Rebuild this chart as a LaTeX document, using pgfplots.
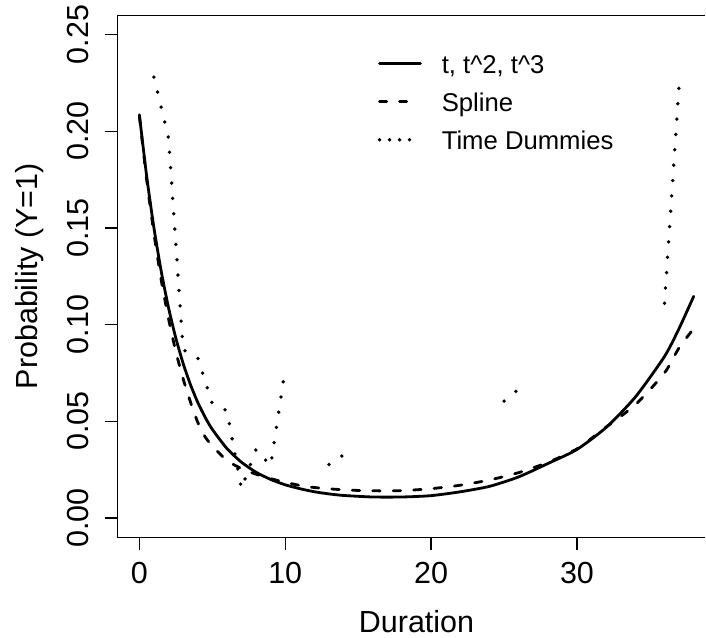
\documentclass[border=0pt]{standalone}
\usepackage{fontspec}
\setmainfont{Liberation Sans}
\usepackage{pgfplots}
\pgfplotsset{compat=1.18}
\newcommand\bigf{\fontsize{30.5bp}{36bp}\selectfont}
\newcommand\legf{\fontsize{25.7bp}{30bp}\selectfont}
\begin{document}
\begin{tikzpicture}
\begin{axis}[
  at={(0,0)}, anchor=south west,
  scale only axis, width=588.7bp, height=522.4bp,
  xmin=-1.52, xmax=38.80, ymin=-0.01, ymax=0.26,
  axis x line*=bottom, axis y line*=left,
  axis line style={line width=1.3bp, -},
  tick style={line width=1.3bp, black},
  tick align=outside, major tick length=12.5bp,
  xtick={0,10,20,30}, xticklabels={0,10,20,30},
  ytick={0,0.05,0.1,0.15,0.2,0.25},
  yticklabels={0.00,0.05,0.10,0.15,0.20,0.25},
  ticklabel style={font=\bigf},
  xticklabel style={anchor=base, yshift=-34.1bp},
  yticklabel style={xshift=-15.8bp, rotate=90, anchor=base},
  xlabel={Duration}, ylabel={Probability (Y=1)},
  label style={font=\bigf},
  xlabel style={at={([xshift=5.25bp, yshift=-95.6bp]axis description cs:0.5,0)}, anchor=base},
  ylabel style={at={([xshift=-79.3bp]axis description cs:0,0.5)}, anchor=base},
  legend style={draw=none, fill=none, at={([xshift=260.7bp, yshift=-38.7bp]axis description cs:0,1)},
    anchor=north west, font=\legf, inner sep=0pt, outer sep=0pt, row sep=12.6bp,
    nodes={inner sep=0pt, text height=19.3bp, text depth=6.4bp}},
  legend cell align=left,
  legend image code/.code={\draw[#1] (1.4bp,3.5bp) -- (42.3bp,3.5bp); \path[draw=none] (0bp,0bp) -- (63.7bp,0bp);},
]
\addlegendimage{line width=2.8bp, line cap=round}
\addlegendentry{t, t\textasciicircum 2, t\textasciicircum 3}
\addlegendimage{line width=2.8bp, line cap=round, dash pattern=on 7.2bp off 12.8bp on 7.2bp off 40bp}
\addlegendentry{Spline}
\addlegendimage{line width=3.8bp, line cap=round, dash pattern=on 0bp off 10bp on 0bp off 10bp on 0bp off 10bp on 0bp off 40bp}
\addlegendentry{Time Dummies}

% t, t^2, t^3
\addplot[forget plot, line width=2.8bp, line cap=round, line join=round, smooth, tension=0.4] coordinates {
(0,0.2085) (0.5,0.1768) (1,0.1500) (1.5,0.1275) (2,0.1087) (2.5,0.0930) (3,0.0799)
(3.5,0.0690) (4,0.0598) (4.5,0.0522) (5,0.0458) (6,0.0359) (7,0.0288) (8,0.0236)
(9,0.0199) (10,0.0171) (11,0.0151) (12,0.0135) (13,0.0124) (14,0.0116) (16,0.0108)
(18,0.0108) (20,0.0115) (22,0.0135) (24,0.0163) (26,0.0212) (28,0.0281) (30,0.0354)
(32,0.0468) (34,0.0625) (36,0.0835) (37,0.0980) (38,0.1146)
};
% Spline
\addplot[forget plot, line width=2.8bp, line cap=round, line join=round, dash pattern=on 7.5bp off 13bp, smooth, tension=0.4] coordinates {
(0,0.2080) (0.5,0.1750) (1,0.1470) (1.5,0.1230) (2,0.1030) (2.5,0.0860) (3,0.0720)
(3.5,0.0600) (4,0.0495) (4.5,0.0420) (5,0.0372) (6,0.0297) (7,0.0255) (8,0.0226)
(9,0.0203) (10,0.0184) (11,0.0168) (12,0.0157) (14,0.0145) (16,0.0140) (18,0.0141)
(20,0.0151) (22,0.0169) (24,0.0196) (26,0.0234) (28,0.0287) (30,0.0357) (32,0.0470)
(34,0.0585) (36,0.0750) (37,0.0880) (38,0.0979)
};
% Time dummies
\addplot[forget plot, line width=3.8bp, line cap=round, dash pattern=on 0bp off 15.4bp] coordinates {
(1,0.2280) (2,0.1965) (3,0.0870) (4,0.0830) (5,0.0590) (6,0.0555) (7,0.0150) (8,0.0355) (9,0.0270) (10,0.0775)
};
\addplot[forget plot, line width=3.8bp, line cap=round, dash pattern=on 0bp off 15.4bp] coordinates {
(13,0.0276) (14,0.0326)
};
\addplot[forget plot, line width=3.8bp, line cap=round, dash pattern=on 0bp off 15.4bp] coordinates {
(25,0.0604) (26,0.0666)
};
\addplot[forget plot, line width=3.8bp, line cap=round, dash pattern=on 0bp off 15.4bp] coordinates {
(36,0.1110) (37,0.2240)
};
\draw[line width=1.3bp] (rel axis cs:0,1) -- (rel axis cs:1,1);
\end{axis}
\path (-117.3bp,-100.3bp) rectangle (588.7bp,537.7bp);
\end{tikzpicture}
\end{document}
